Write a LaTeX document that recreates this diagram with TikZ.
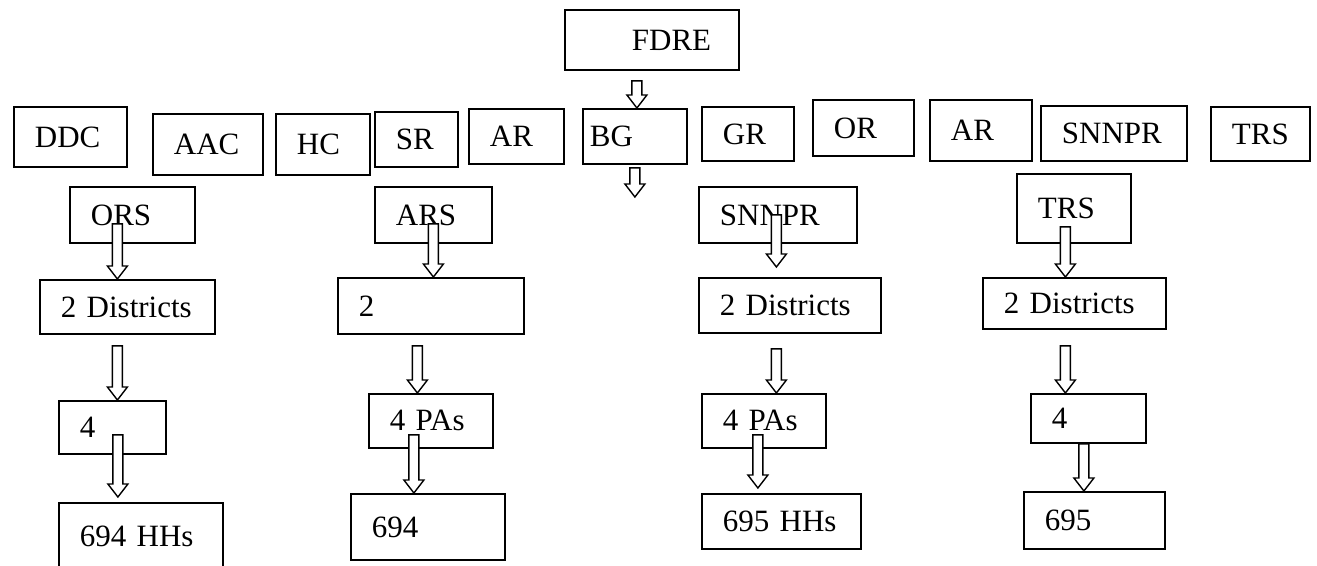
\documentclass[tikz,border=0pt]{standalone}
\usepackage{fontspec}
\setmainfont{Liberation Serif}
\usepackage{tikz}
\usetikzlibrary{calc}

\begin{document}
\begin{tikzpicture}
[x=1pt, y=-1pt,
 box/.style={draw, line width=1.8pt, fill=white, anchor=north west, align=left,
   inner xsep=21pt, inner ysep=0pt, font=\fontsize{31}{37}\selectfont},
 blk/.style={draw, fill=white, line width=1.4pt, line join=miter,
   to path={let \p1=(\tikztostart), \p2=(\tikztotarget) in
     (\x1-5pt,\y1) -- (\x1+5pt,\y1) -- (\x1+5pt,\y2+13pt) -- (\x1+10pt,\y2+13pt)
     -- (\x1,\y2) -- (\x1-10pt,\y2+13pt) -- (\x1-5pt,\y2+13pt) -- cycle}}]
\useasboundingbox (0,0) rectangle (1317,565);
\node[box, text width=40pt, inner xsep=67pt, minimum height=60pt] (fdre) at (564,9) {FDRE};
\node[box, text width=71pt, minimum height=60pt] (ddc) at (13,106) {DDC};
\node[box, text width=68pt, minimum height=61pt] (aac) at (152,113) {AAC};
\node[box, text width=52pt, minimum height=61pt] (hc) at (275,113) {HC};
\node[box, text width=41pt, minimum height=55pt] (sr) at (374,111) {SR};
\node[box, text width=53pt, minimum height=55pt] (ar) at (468,108) {AR};
\node[box, text width=90pt, inner xsep=7pt, minimum height=55pt] (bg) at (582,108) {BG};
\node[box, text width=50pt, minimum height=54pt] (gr) at (701,106) {GR};
\node[box, text width=59pt, minimum height=56pt] (or) at (812,99) {OR};
\node[box, text width=60pt, minimum height=61pt] (arb) at (929,99) {AR};
\node[box, text width=104pt, minimum height=55pt] (snnpr) at (1040,105) {SNNPR};
\node[box, text width=57pt, minimum height=54pt] (trs) at (1210,106) {TRS};
\node[box, text width=83pt, minimum height=56pt] (ors) at (69,186) {ORS};
\node[box, text width=75pt, minimum height=56pt] (ars) at (374,186) {ARS};
\node[box, text width=116pt, minimum height=56pt] (snnprs) at (698,186) {SNNPR};
\node[box, text width=72pt, minimum height=69pt] (trss) at (1016,173) {TRS};
\node[box, text width=133pt, minimum height=54pt] (dista) at (39,279) {2 Districts};
\node[box, text width=144pt, minimum height=56pt] (distb) at (337,277) {2};
\node[box, text width=140pt, minimum height=55pt] (distc) at (698,277) {2 Districts};
\node[box, text width=141pt, minimum height=51pt] (distd) at (982,277) {2 Districts};
\node[box, text width=65pt, minimum height=53pt] (pasa) at (58,400) {4};
\node[box, text width=82pt, minimum height=54pt] (pasb) at (368,393) {4 PAs};
\node[box, text width=82pt, minimum height=54pt] (pasc) at (701,393) {4 PAs};
\node[box, text width=73pt, minimum height=49pt] (pasd) at (1030,393) {4};
\node[box, text width=122pt, minimum height=66pt] (hha) at (58,502) {694 HHs};
\node[box, text width=112pt, minimum height=66pt] (hhb) at (350,493) {694};
\node[box, text width=117pt, minimum height=55pt] (hhc) at (701,493) {695 HHs};
\node[box, text width=99pt, minimum height=57pt] (hhd) at (1023,491) {695};
\coordinate (bgend) at (635,197);
\draw[blk] ([shift={(-15,10)}]fdre.south) to (bg.north);
\draw[blk] ([yshift=-3pt]bg.south) to (bgend);
\draw[blk] ([shift={(-15,9)}]ors.center) to (dista.north);
\draw[blk] ([yshift=-9pt]ars.center) to (distb.north);
\draw[blk] ([xshift=-1.5pt]snnprs.center) to ([yshift=10pt]distc.north);
\draw[blk] ([shift={(-8.5,18.5)}]trss.center) to (distd.north);
\draw[blk] ([shift={(-10,11)}]dista.south) to (pasa.north);
\draw[blk] ([shift={(-13.5,11)}]distb.south) to (pasb.north);
\draw[blk] ([shift={(-13.5,15)}]distc.south) to (pasc.north);
\draw[blk] ([shift={(-9,16)}]distd.south) to (pasd.north);
\draw[blk] ([shift={(5.5,7.5)}]pasa.center) to ([yshift=5pt]hha.north);
\draw[blk] ([shift={(-17,14)}]pasb.center) to (hhb.north);
\draw[blk] ([shift={(-6,14)}]pasc.center) to ([yshift=5pt]hhc.north);
\draw[blk] ([xshift=-4.5pt]pasd.south) to (hhd.north);
\end{tikzpicture}
\end{document}
